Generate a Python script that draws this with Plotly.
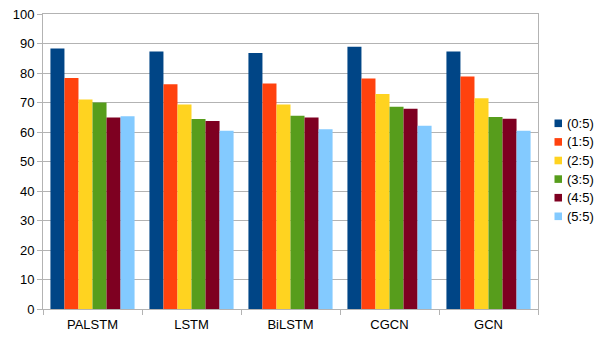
import plotly.graph_objects as go

categories = ["PALSTM", "LSTM", "BiLSTM", "CGCN", "GCN"]
series_names = ["(0:5)", "(1:5)", "(2:5)", "(3:5)", "(4:5)", "(5:5)"]
s0 = [88.3, 87.3, 86.8, 88.9, 87.3]
s1 = [78.3, 76.2, 76.4, 78.1, 78.8]
s2 = [71.0, 69.3, 69.3, 72.9, 71.4]
s3 = [70.0, 64.4, 65.5, 68.6, 65.1]
s4 = [64.9, 63.7, 64.9, 67.9, 64.5]
s5 = [65.3, 60.4, 60.9, 62.1, 60.4]
colors = ["#004586", "#ff420e", "#ffd320", "#579d1c", "#7e0021", "#83caff"]
y_ticks = [0, 10, 20, 30, 40, 50, 60, 70, 80, 90, 100]

W, H = 605, 340
ML, MR, MT, MB = 43, 67, 14, 31
PW, PH = W - ML - MR, H - MT - MB

fig = go.Figure()
for name, vals, c in zip(series_names, [s0, s1, s2, s3, s4, s5], colors):
    fig.add_trace(go.Bar(x=categories, y=vals, name=name, marker_color=c,
                         marker_line_width=0, showlegend=False))

font = dict(family="Liberation Sans, Arial, sans-serif", size=13, color="#000000")

# manual legend (small squares + labels, like the original)
def px_x(p):
    return (p - ML) / PW

def px_y(p):
    return (H - MB - p) / PH

for i, (name, c) in enumerate(zip(series_names, colors)):
    cy = 123.3 + i * 18.6
    fig.add_shape(type="rect", xref="paper", yref="paper",
                  x0=px_x(554.5), x1=px_x(562), y0=px_y(cy + 3.8), y1=px_y(cy - 3.8),
                  fillcolor=c, line=dict(width=0))
    fig.add_annotation(xref="paper", yref="paper", x=px_x(565), y=px_y(cy),
                       text=name, showarrow=False, xanchor="left", yanchor="middle",
                       font=font)

fig.update_layout(
    width=W, height=H,
    margin=dict(l=ML, r=MR, t=MT, b=MB, autoexpand=False),
    paper_bgcolor="white", plot_bgcolor="white",
    barmode="group", bargap=0.15, bargroupgap=0,
    font=font,
    showlegend=False,
)
fig.update_xaxes(showgrid=False, showline=True, linecolor="#b3b3b3", linewidth=1,
                 mirror=True, ticks="outside", tickson="boundaries", ticklen=5,
                 tickcolor="#b3b3b3", tickfont=font, automargin=False,
                 ticklabelstandoff=3)
fig.update_yaxes(range=[0, 100], tickvals=y_ticks, showgrid=True, gridcolor="#b3b3b3",
                 gridwidth=1, showline=True, linecolor="#b3b3b3", linewidth=1,
                 mirror=True, ticks="outside", ticklen=5, tickcolor="#b3b3b3",
                 tickfont=font, zeroline=False, automargin=False)

fig.write_html("out.html", config={"displayModeBar": False},
               post_script="document.body.style.margin='0';document.body.style.overflow='hidden';")
